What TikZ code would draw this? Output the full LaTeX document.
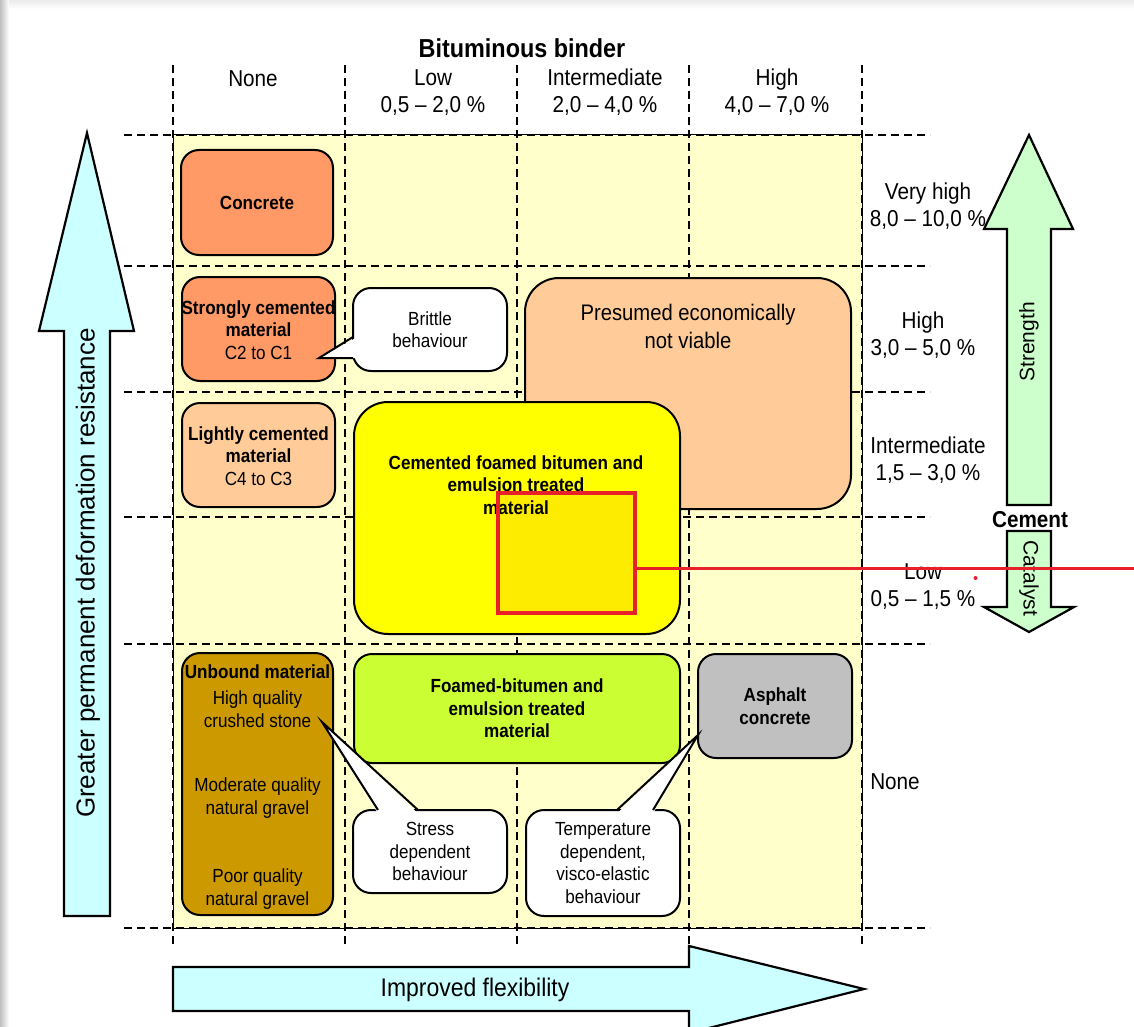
\documentclass[tikz,border=0pt]{standalone}
\usepackage{fontspec}
\setmainfont[FakeStretch=0.9]{Liberation Sans}
\newfontfamily\plainfont{Liberation Sans}
\definecolor{gridbg}{HTML}{FFFFCC}
\definecolor{orangebox}{HTML}{FF9966}
\definecolor{peach}{HTML}{FFCC99}
\definecolor{yel}{HTML}{FFFF00}
\definecolor{lime}{HTML}{CCFF33}
\definecolor{graybox}{HTML}{C0C0C0}
\definecolor{brownbox}{HTML}{CC9900}
\definecolor{cyanarrow}{HTML}{CCFFFF}
\definecolor{greenarrow}{HTML}{CCFFCC}
\definecolor{redmark}{HTML}{E8202A}
\definecolor{redfill}{HTML}{FDEB00}
\begin{document}
\begin{tikzpicture}[x=1pt,y=-1pt,
  box/.style={draw=black, line width=2pt, rounded corners=18pt, inner sep=0pt},
  bt/.style={font=\bfseries\fontsize{19}{22.5}\selectfont, align=center, inner sep=0pt},
  rt/.style={font=\fontsize{19}{22.5}\selectfont, align=center, inner sep=0pt},
  hdr/.style={font=\fontsize{23}{27}\selectfont, align=center, inner sep=0pt},
  gline/.style={draw=black, line width=1.2pt, dash pattern=on 8pt off 5pt},
  arrowshape/.style={draw=black, line width=2.2pt, line join=miter},
  tail/.style={draw=black, line width=2pt, line join=miter}
]
\useasboundingbox (0,0) rectangle (1134,1027);
\fill[white] (0,0) rectangle (1134,1027);
\shade[left color=black!25, right color=white] (0,0) rectangle (9,1027);
\shade[top color=black!8, bottom color=white] (9,0) rectangle (1134,9);

% grid background and dashed grid
\fill[gridbg] (173,135) rectangle (862,928);
\draw[line width=1pt] (173,135) rectangle (862,928);
\foreach \x in {173,345,517,689,862} \draw[gline] (\x,65) -- (\x,945);
\foreach \y in {135,266,392,517,644,928} \draw[gline] (124,\y) -- (930,\y);

% column headers
\node[font=\bfseries\fontsize{26}{30}\selectfont, inner sep=0pt] (title) at (522,48) {Bituminous binder};
\node[hdr] (cnone) at (253,79) {None};
\node[hdr] (clow) at (433,92.5) {Low\\0,5 – 2,0 \%};
\node[hdr] (cint) at (605,92.5) {Intermediate\\2,0 – 4,0 \%};
\node[hdr] (chigh) at (777,92.5) {High\\4,0 – 7,0 \%};

% row headers
\node[hdr] (rvhigh) at (928,206.5) {Very high\\8,0 – 10,0 \%};
\node[hdr] (rhigh) at (923,335) {High\\3,0 – 5,0 \%};
\node[hdr] (rint) at (928,460) {Intermediate\\1,5 – 3,0 \%};
\node[hdr] (rlow) at (923,586.5) {Low\\0,5 – 1,5 \%};
\node[hdr] (rnone) at (895,782) {None};

% left arrow
\filldraw[arrowshape, fill=cyanarrow] (64,916) -- (64,331) -- (39,331) -- (87,133) -- (134,331) -- (110,331) -- (110,916) -- cycle;
\node[rotate=90, font=\plainfont\fontsize{26}{30}\selectfont, inner sep=0pt] (leftlbl) at (88,573) {Greater permanent deformation resistance};

% right arrows (cement)
\filldraw[arrowshape, fill=greenarrow] (1007,505) -- (1007,229) -- (984,229) -- (1029,135) -- (1073,229) -- (1051,229) -- (1051,505) -- cycle;
\filldraw[arrowshape, fill=greenarrow] (1007,531) -- (1007,607) -- (984,607) -- (1029,632) -- (1074,607) -- (1051,607) -- (1051,531) -- cycle;
\node[rotate=90, font=\plainfont\fontsize{21}{25}\selectfont, inner sep=0pt] (strength) at (1029,342) {Strength};
\node[rotate=-90, font=\plainfont\fontsize{21}{25}\selectfont, inner sep=0pt] (catalyst) at (1029,578) {Catalyst};
\node[font=\bfseries\fontsize{23}{27}\selectfont, inner sep=0pt] (cement) at (1030,520) {Cement};

% bottom arrow
\filldraw[arrowshape, fill=cyanarrow] (173,967) -- (689,967) -- (689,946) -- (864,989) -- (689,1033) -- (689,1011) -- (173,1011) -- cycle;
\node[font=\fontsize{25.5}{30}\selectfont, inner sep=0pt] (flex) at (475,990) {Improved flexibility};

% boxes
\node[box, fill=orangebox, minimum width=152pt, minimum height=105pt, bt] (concrete) at (257,202.5) {Concrete};
\node[box, fill=orangebox, minimum width=153pt, minimum height=104pt] (strong) at (258.5,329) {};
\node[rt] (strongtxt) at (258.5,330) {\textbf{Strongly cemented}\\\textbf{material}\\C2 to C1};
\node[box, fill=peach, minimum width=153pt, minimum height=104pt] (light) at (258.5,455) {};
\node[rt] (lighttxt) at (258.5,456) {\textbf{Lightly cemented}\\\textbf{material}\\C4 to C3};

\node[box, fill=peach, minimum width=326pt, minimum height=231pt, rounded corners=34pt] (presumed) at (688,393.5) {};
\node[font=\fontsize{22.5}{28}\selectfont, align=center, inner sep=0pt] (presumedtxt) at (688,326) {Presumed economically\\not viable};

\node[box, fill=yel, minimum width=326pt, minimum height=232pt, rounded corners=34pt] (cemented) at (517,518) {};
\fill[redfill] (498,493) rectangle (635,613);
\node[bt] (cementedtxt) at (516,485) {Cemented foamed bitumen and\\emulsion treated\\material};
\draw[redmark, line width=3.2pt] (498,493) rectangle (635,613);
\coordinate (redend) at (1134,568);
\draw[redmark, line width=3pt] (635,568) -- (redend);
\fill[redmark] (975.5,578) circle (2);

\node[box, fill=lime, minimum width=326pt, minimum height=109pt, bt] (foamed) at (517,708.5) {Foamed-bitumen and\\emulsion treated\\material};
\node[box, fill=graybox, minimum width=154pt, minimum height=104pt, bt] (asphalt) at (775,706) {Asphalt\\concrete};

\node[box, fill=brownbox, minimum width=151pt, minimum height=262pt] (unbound) at (257.5,784) {};
\node[bt] (unboundtitle) at (257.5,672) {Unbound material};
\node[rt] (hq) at (257.5,709) {High quality\\crushed stone};
\node[rt] (mq) at (257.5,798) {Moderate quality\\natural gravel};
\node[rt] (pq) at (257.5,889) {Poor quality\\natural gravel};

% callouts
\node[box, fill=white, minimum width=154pt, minimum height=83pt, rt] (brittle) at (430,329.5) {Brittle\\behaviour};
\coordinate (brittletip) at (319,358);
\fill[white] (356.5,337.5) -- (brittletip) -- (356.5,358) -- cycle;
\draw[tail] (353,337) -- (brittletip) -- (353,358);

\node[box, fill=white, minimum width=154pt, minimum height=83pt, rt] (stress) at (430,851.5) {Stress\\dependent\\behaviour};
\coordinate (stresstip) at (322,722);
\fill[white] (378,813.5) -- (stresstip) -- (418,813.5) -- cycle;
\draw[tail] (378,810) -- (stresstip) -- (418,810);

\node[box, fill=white, minimum width=154pt, minimum height=106pt, rt] (temp) at (603,863) {Temperature\\dependent,\\visco-elastic\\behaviour};
\coordinate (temptip) at (698,735);
\fill[white] (617,813.5) -- (temptip) -- (653,813.5) -- cycle;
\draw[tail] (617,810) -- (temptip) -- (653,810);
\end{tikzpicture}
\end{document}
